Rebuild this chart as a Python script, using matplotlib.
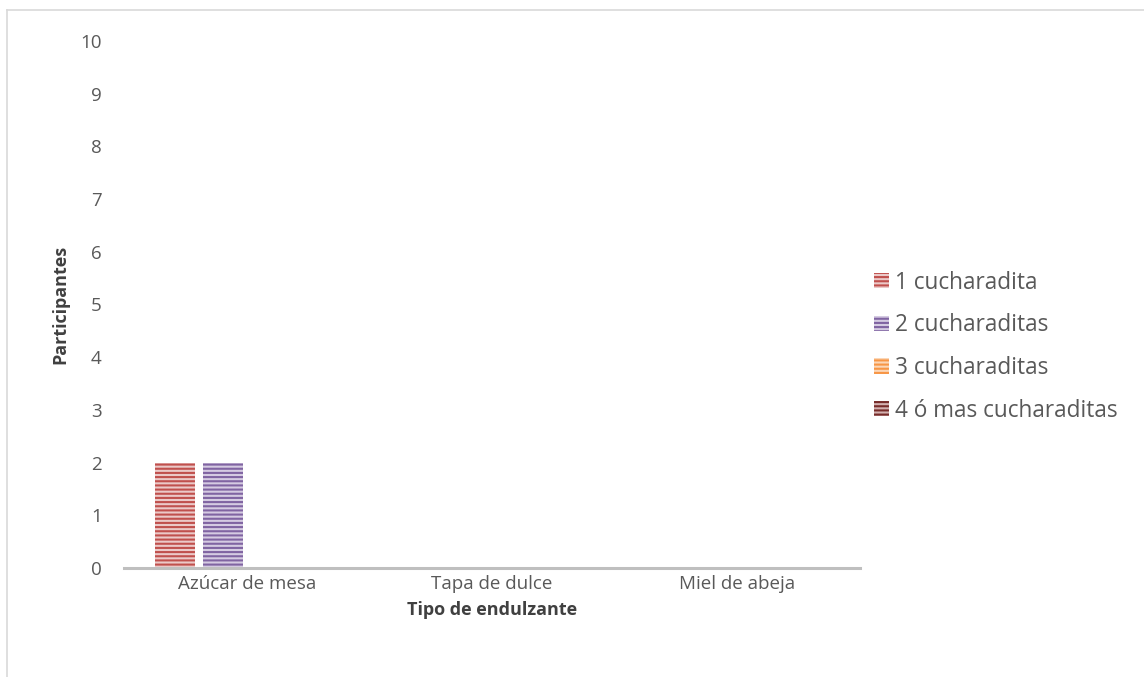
import matplotlib.pyplot as plt
import numpy as np
from matplotlib.lines import Line2D

categorias = ['Azúcar de mesa', 'Tapa de dulce', 'Miel de abeja']
series = ['1 cucharadita', '2 cucharaditas', '3 cucharaditas', '4 ó mas cucharaditas']
valores = [
    [2, 0, 0],
    [2, 0, 0],
    [0, 0, 0],
    [0, 0, 0],
]
colores = ['#C0504D', '#8064A2', '#F79646', '#772C2A']
fondos = ['#EBC9C8', '#D5CBE2', '#FBD7B8', '#D3B1B0']

plt.rcParams['font.family'] = ['Open Sans', 'DejaVu Sans']
plt.rcParams['hatch.linewidth'] = 1.5

fig = plt.figure(figsize=(11.44, 6.77), dpi=100)
ax = fig.add_axes([124 / 1144, 1 - 568 / 677, 736 / 1144, 527 / 677])

x = np.arange(len(categorias))
ancho = 0.163
paso = 0.196
for i, (nombre, vals) in enumerate(zip(series, valores)):
    off = (i - 1.5) * paso
    ax.bar(x + off, vals, ancho, color=fondos[i], edgecolor=colores[i],
           hatch='----', linewidth=0, label=nombre)

ax.set_xlim(-0.5, 2.5)
ax.set_ylim(0, 10)
ax.set_yticks(range(0, 11))
ax.set_xticks(x)
ax.set_xticklabels(categorias)
ax.tick_params(axis='both', length=0, labelsize=13.5, labelcolor='#595959')
ax.tick_params(axis='y', pad=16)
ax.tick_params(axis='x', pad=5)
for s in ['top', 'right', 'left']:
    ax.spines[s].set_visible(False)
ax.spines['bottom'].set_color('#BFBFBF')
ax.spines['bottom'].set_linewidth(2.2)

ax.set_xlabel('Tipo de endulzante', fontsize=13, fontweight='bold', color='#404040', labelpad=6)
ax.set_ylabel('Participantes', fontsize=13, fontweight='bold', color='#404040', labelpad=8)

leg = ax.legend(loc='center left', bbox_to_anchor=(0.992, 0.42), frameon=False,
                fontsize=16.3, labelcolor='#595959', handlelength=0.65, handleheight=0.65,
                handletextpad=0.25, labelspacing=0.82)

# borde del área del gráfico
fig.add_artist(Line2D([7 / 1144, 7 / 1144], [0, 1 - 10 / 677], color='#D9D9D9', lw=1.2))
fig.add_artist(Line2D([7 / 1144, 1], [1 - 10 / 677, 1 - 10 / 677], color='#D9D9D9', lw=1.2))

plt.savefig('out.png', dpi=100)
